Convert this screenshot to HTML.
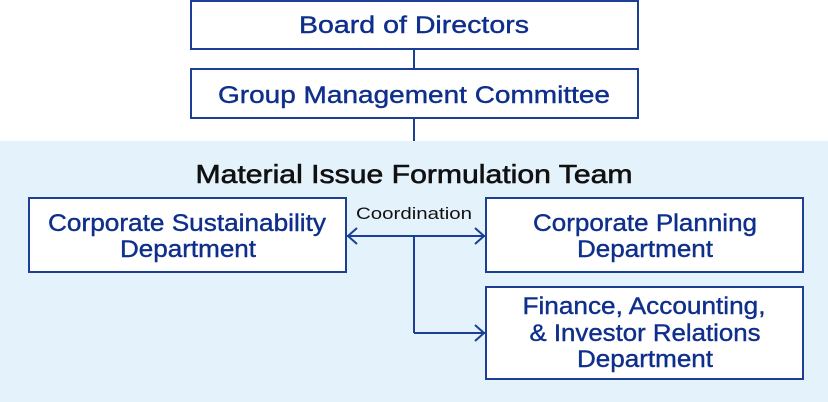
<!DOCTYPE html>
<html><head><meta charset="utf-8"><style>
html,body{margin:0;padding:0;background:#fff;}
svg{display:block;}
text{font-family:"Liberation Sans",Arial,sans-serif;}
.b{fill:#0f2f8c;font-size:24px;text-anchor:middle;stroke:#0f2f8c;stroke-width:0.4px;}
</style></head><body>
<svg width="828" height="402" viewBox="0 0 828 402" xmlns="http://www.w3.org/2000/svg">
<rect x="0" y="141" width="828" height="261" fill="#e4f2fc"/>
<g fill="#fff" stroke="#1b3f94" stroke-width="2">
<rect x="191" y="1" width="447" height="48"/>
<rect x="191" y="69" width="447" height="49"/>
<rect x="29" y="198" width="317" height="74"/>
<rect x="486" y="198" width="317" height="74"/>
<rect x="486" y="287" width="317" height="92"/>
</g>
<g fill="none" stroke="#1b3f94" stroke-width="2">
<line x1="414" y1="49" x2="414" y2="69"/>
<line x1="414" y1="118" x2="414" y2="141"/>
<line x1="347" y1="236" x2="485" y2="236"/>
<line x1="414" y1="236" x2="414" y2="333"/>
<line x1="414" y1="333" x2="485" y2="333"/>
<polyline points="357,228 348,236 357,244"/>
<polyline points="475,228 484,236 475,244"/>
<polyline points="475,325 484,333 475,341"/>
</g>
<text class="b" x="414" y="33" textLength="230" lengthAdjust="spacingAndGlyphs">Board of Directors</text>
<text class="b" x="414" y="103" textLength="392" lengthAdjust="spacingAndGlyphs">Group Management Committee</text>
<text x="414" y="183" font-size="26" text-anchor="middle" fill="#111" stroke="#111" stroke-width="0.6" textLength="437" lengthAdjust="spacingAndGlyphs">Material Issue Formulation Team</text>
<text x="414" y="219" font-size="17" text-anchor="middle" fill="#111" textLength="116" lengthAdjust="spacingAndGlyphs">Coordination</text>
<text class="b" x="187" y="231" textLength="278" lengthAdjust="spacingAndGlyphs">Corporate Sustainability</text>
<text class="b" x="188" y="257" textLength="136" lengthAdjust="spacingAndGlyphs">Department</text>
<text class="b" x="645" y="231" textLength="224" lengthAdjust="spacingAndGlyphs">Corporate Planning</text>
<text class="b" x="645" y="257" textLength="136" lengthAdjust="spacingAndGlyphs">Department</text>
<text class="b" x="644" y="314" textLength="243" lengthAdjust="spacingAndGlyphs">Finance, Accounting,</text>
<text class="b" x="645" y="341" textLength="231" lengthAdjust="spacingAndGlyphs">&amp; Investor Relations</text>
<text class="b" x="645" y="367" textLength="136" lengthAdjust="spacingAndGlyphs">Department</text>
</svg>
</body></html>
